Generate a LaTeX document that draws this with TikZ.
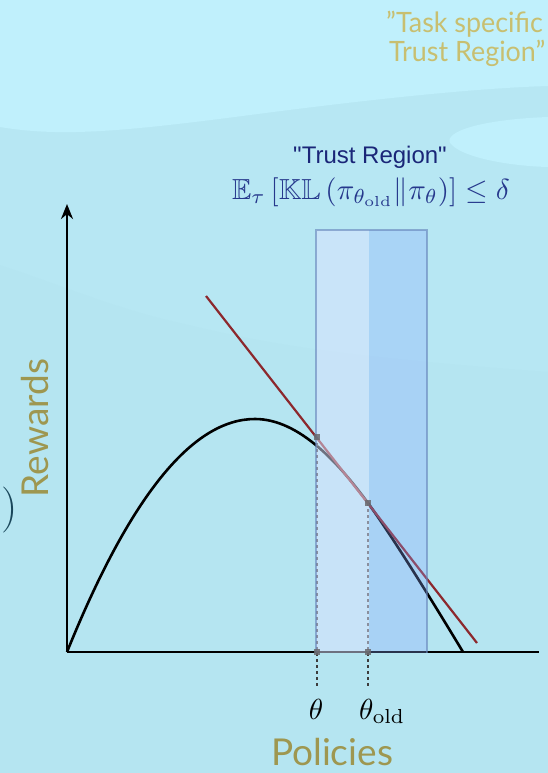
\documentclass[tikz,border=0pt]{standalone}
\usepackage{amssymb}
\usepackage{fontspec}
\newfontfamily\arialf{Liberation Sans}
\newfontfamily\lato{Lato}
\usetikzlibrary{arrows.meta}
\definecolor{bgtop}{RGB}{192,240,252}
\definecolor{bgmid}{RGB}{183,231,243}
\definecolor{bgbot}{RGB}{181,229,241}
\definecolor{olivet}{RGB}{200,191,112}
\definecolor{olived}{RGB}{158,151,80}
\definecolor{navyt}{RGB}{26,38,120}
\definecolor{navym}{RGB}{38,56,140}
\definecolor{redl}{RGB}{140,40,45}
\definecolor{parenc}{RGB}{25,70,90}
\definecolor{dotc}{RGB}{60,60,60}
\definecolor{markc}{RGB}{105,105,110}
\definecolor{ovlight}{RGB}{219,227,255}
\definecolor{ovdark}{RGB}{138,169,255}
\definecolor{borderc}{RGB}{100,130,185}
\tikzset{
  axisline/.style={line width=2.8pt, black},
  curveline/.style={line width=2.6pt, black},
  tangline/.style={line width=2.2pt, redl},
  dotline/.style={line width=1.5pt, dotc, dash pattern=on 3pt off 3pt},
  markbox/.style={fill=markc, fill opacity=0.85, minimum size=6pt, inner sep=0pt, draw=none},
  mathlbl/.style={inner sep=0pt, anchor=base},
  toptext/.style={anchor=base west, inner sep=0pt, font=\lato\fontsize{28}{28}\selectfont, text=olivet},
  axtext/.style={inner sep=0pt, font=\lato\fontsize{37}{37}\selectfont, text=olived},
}
\begin{document}
\begin{tikzpicture}[x=1pt,y=-1pt]
\useasboundingbox (0,0) rectangle (548,773);
% background
\fill[bgmid] (0,0) rectangle (548,773);
\fill[bgbot] (0,265) .. controls (60,285) and (120,310) .. (180,323) .. controls (260,342) and (320,355) .. (548,372) -- (548,773) -- (0,773) -- cycle;
\fill[bgtop] (0,0) -- (548,0) -- (548,86) .. controls (480,88) and (380,98) .. (250,115) .. controls (120,132) and (60,137) .. (0,127) -- cycle;
\fill[bgtop] (548,117) .. controls (470,120) and (440,135) .. (452,145) .. controls (465,158) and (510,166) .. (548,167) -- cycle;

% top right text
\node[toptext] (task1) at (386,33) {\scalebox{0.96}[1]{”Task specific}};
\node[toptext] (task2) at (389,62) {\scalebox{0.96}[1]{Trust Region”}};

% title and formula
\node[anchor=base, inner sep=0pt, font=\arialf\fontsize{24}{24}\selectfont, text=navyt] (trtitle) at (370,163) {"Trust Region"};
\node[mathlbl, text=navym] (kl) at (371,199) {\scalebox{2.9}{$\mathbb{E}_\tau\left[\mathbb{KL}\left(\pi_{\theta_{\mathrm{old}}}\|\pi_\theta\right)\right]\le\delta$}};

% axes
\coordinate (O) at (67,652);
\coordinate (ytip) at (67,204);
\coordinate (xend) at (539,652);
\draw[axisline, -{Stealth[length=15pt,width=12pt]}] (O) -- (ytip);
\draw[axisline] (O) -- (xend);

% reward curve
\coordinate (peak) at (255,419);
\coordinate (tp) at (368,503);
\coordinate (cend) at (463,652);
\draw[curveline] (O) .. controls (129.8,496.7) and (192.3,419) .. (peak)
  .. controls (300,419) and (340,465) .. (tp)
  .. controls (395,540) and (445,622) .. (cend);

% tangent line
\coordinate (r1) at (206,296);
\coordinate (r2) at (477,643);
\draw[tangline] (r1) -- (r2);

% points
\coordinate (pth) at (317,437);
\coordinate (pthb) at (317,652);
\coordinate (ptob) at (368,652);
\coordinate (dth) at (317,688);
\coordinate (dto) at (368,688);
\draw[dotline] (pth) -- (dth);
\draw[dotline] (tp) -- (dto);

% trust region overlay
\fill[ovlight, fill opacity=0.5] (316,230) rectangle (369,653);
\fill[ovdark, fill opacity=0.3] (369,230) rectangle (427,653);
\draw[line width=2.5pt, borderc, opacity=0.6] (316,653) -- (316,230) -- (427,230) -- (427,653);

% markers
\node[markbox] (m1) at (pth) {};
\node[markbox] (m2) at (tp) {};
\node[markbox] (m3) at (pthb) {};
\node[markbox] (m4) at (ptob) {};

% theta labels
\node[mathlbl] (lth) at (316,719) {\scalebox{2.9}{$\theta$}};
\node[mathlbl, anchor=base west] (ltho) at (359,719) {\scalebox{2.9}{$\theta_{\mathrm{old}}$}};

% axis labels
\node[axtext, rotate=90] (rew) at (35,428) {Rewards};
\node[axtext, anchor=base] (pol) at (332,765) {Policies};

% stray parenthesis
\node[inner sep=0pt, text=parenc, font=\fontsize{46}{46}\selectfont] (par) at (10,510) {)};
\end{tikzpicture}
\end{document}
